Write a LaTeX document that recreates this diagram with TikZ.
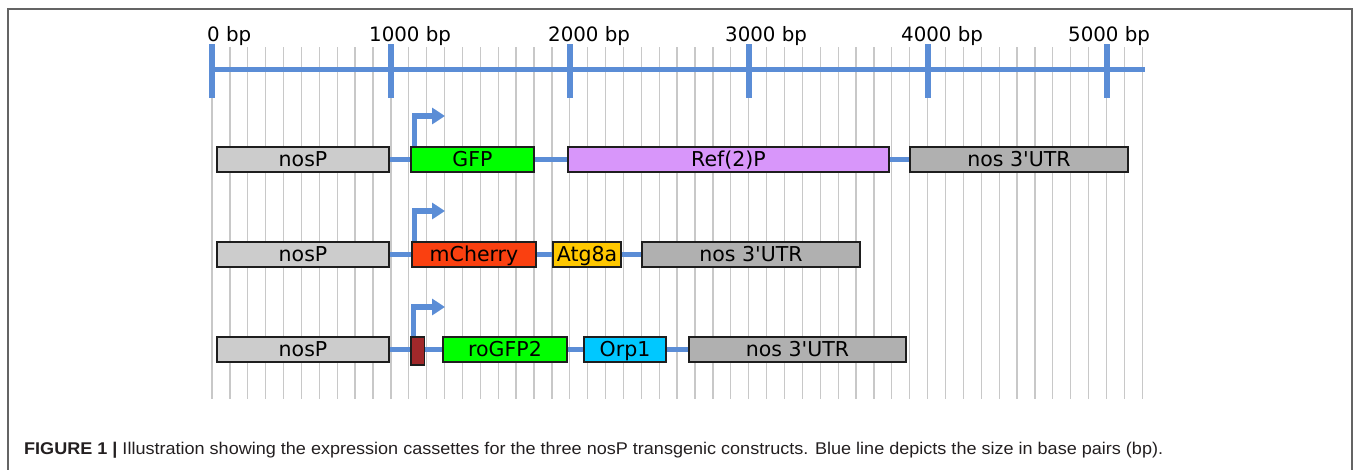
\documentclass[tikz,border=0pt]{standalone}
\usepackage{fontspec}
\usepackage{graphicx}
\setmainfont{DejaVu Sans}
\newfontfamily\capfont{Liberation Sans}
\usetikzlibrary{arrows.meta}
\definecolor{axisblue}{RGB}{91,141,214}
\definecolor{gridgray}{RGB}{200,200,200}
\definecolor{boxline}{RGB}{30,30,30}
\definecolor{nospgray}{RGB}{204,204,204}
\definecolor{utrgray}{RGB}{176,176,176}
\definecolor{gfpgreen}{RGB}{0,255,0}
\definecolor{refviolet}{RGB}{216,150,250}
\definecolor{cherry}{RGB}{250,64,16}
\definecolor{atggold}{RGB}{255,200,0}
\definecolor{orpblue}{RGB}{0,200,255}
\definecolor{maroon}{RGB}{160,40,42}
\definecolor{framegray}{RGB}{100,100,100}
\definecolor{captext}{RGB}{35,31,32}
\newcommand{\utrtext}{nos 3\textquotesingle UTR}
\tikzset{
  gbox/.style={draw=boxline, line width=1.5pt, inner sep=0pt, minimum height=25pt,
    text height=14.9pt, text depth=0pt, font=\fontsize{20.5}{24}\selectfont, text=black},
  conn/.style={draw=axisblue, line width=5.5pt},
  prom/.style={draw=axisblue, line width=5.5pt, line join=miter,
    -{Triangle[length=13pt,width=16pt]}},
  gridline/.style={draw=gridgray, line width=1.3pt},
  tickmark/.style={draw=axisblue, line width=6pt},
  axislabel/.style={anchor=base west, inner sep=0pt, font=\fontsize{19.8}{22}\selectfont},
}
\begin{document}
\begin{tikzpicture}[x=1pt,y=-1pt]
\useasboundingbox (0,0) rectangle (1358,469);
% frame
\draw[framegray, line width=1.3pt] (8,472) -- (8,9) -- (1352,9) -- (1352,472);
% grid
\foreach \i in {0,...,52} {
  \draw[gridline] ({212+17.89*\i},47) -- ({212+17.89*\i},399);
}
% axis
\coordinate (axs) at (212,69.3);
\coordinate (axe) at (1145,69.3);
\draw[draw=axisblue, line width=4.5pt] (axs) -- (axe);
\foreach \k/\lx in {0/207,1/369,2/548,3/725,4/901,5/1068} {
  \draw[tickmark] ({212+178.9*\k},44) -- ({212+178.9*\k},98);
  \pgfmathtruncatemacro{\bpv}{\k*1000}
  \node[axislabel] (lab\k) at (\lx,41) {\bpv{} bp};
}
% ---------- row 1 ----------
\node[gbox, fill=nospgray, minimum width=172pt] (nosP1) at (303,159.5) {nosP};
\node[gbox, fill=gfpgreen, minimum width=123pt] (gfp1) at (472.5,159.5) {GFP};
\node[gbox, fill=refviolet, minimum width=321pt] (ref1) at (728.5,159.5) {Ref(2)P};
\node[gbox, fill=utrgray, minimum width=218pt] (utr1) at (1019,159.5) {\utrtext};
% ---------- row 2 ----------
\node[gbox, fill=nospgray, minimum width=172pt] (nosP2) at (303,254.5) {nosP};
\node[gbox, fill=cherry, minimum width=124pt] (mch2) at (474,254.5) {mCherry};
\node[gbox, fill=atggold, minimum width=68pt] (atg2) at (587,254.5) {Atg8a};
\node[gbox, fill=utrgray, minimum width=218pt] (utr2) at (751,254.5) {\utrtext};
% ---------- row 3 ----------
\node[gbox, fill=nospgray, minimum width=172pt] (nosP3) at (303,349.5) {nosP};
\node[gbox, fill=maroon, minimum width=13.5pt, minimum height=28pt] (sig3) at (417.75,351) {};
\node[gbox, fill=gfpgreen, minimum width=124pt] (ro3) at (505,349.5) {roGFP2};
\node[gbox, fill=orpblue, minimum width=82pt] (orp3) at (625,349.5) {Orp1};
\node[gbox, fill=utrgray, minimum width=217pt] (utr3) at (797.5,349.5) {\utrtext};
% connectors
\draw[conn] (nosP1.east) -- (gfp1.west);
\draw[conn] (gfp1.east) -- (ref1.west);
\draw[conn] (ref1.east) -- (utr1.west);
\draw[conn] (nosP2.east) -- (mch2.west);
\draw[conn] (mch2.east) -- (atg2.west);
\draw[conn] (atg2.east) -- (utr2.west);
\draw[conn] (nosP3.east) -- (sig3.west |- nosP3.east);
\draw[conn] (sig3.east |- ro3.west) -- (ro3.west);
\draw[conn] (ro3.east) -- (orp3.west);
\draw[conn] (orp3.east) -- (utr3.west);
% promoter arrows
\coordinate (tip1) at (445,116);
\coordinate (tip2) at (445,211);
\coordinate (tip3) at (445,307);
\draw[prom] ([xshift=4pt]gfp1.north west) |- (tip1);
\draw[prom] ([xshift=3pt]mch2.north west) |- (tip2);
\draw[prom] ([xshift=3pt]sig3.north west) |- (tip3);
% caption
\node[anchor=base west, inner sep=0pt, text=captext] (cap) at (24,454)
  {\resizebox{1139pt}{\height}{\capfont\fontsize{17}{20}\selectfont\textbf{FIGURE 1 |} Illustration showing the expression cassettes for the three nosP transgenic constructs. Blue line depicts the size in base pairs (bp).}};
\end{tikzpicture}
\end{document}
